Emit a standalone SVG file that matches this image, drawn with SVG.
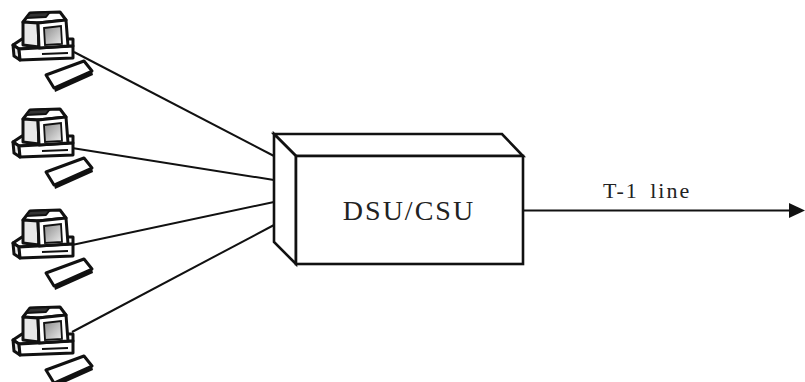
<svg xmlns="http://www.w3.org/2000/svg" xmlns:xlink="http://www.w3.org/1999/xlink" width="805" height="382" viewBox="0 0 805 382">
  <style>
    .pc-line { fill: #fff; stroke: #111; stroke-width: 3; stroke-linejoin: round; }
    .pc-side { fill: #e8e8e8; stroke: #111; stroke-width: 3; stroke-linejoin: round; }
    .pc-dark { fill: #333; stroke: #111; stroke-width: 2; stroke-linejoin: round; }
    .wire { stroke: #111; stroke-width: 2; fill: none; }
    .box { fill: #fff; stroke: #111; stroke-width: 2.6; stroke-linejoin: miter; }
    .label { font-family: "Liberation Serif", "Times New Roman", serif; fill: #222; }
  </style>
  <defs>
    <linearGradient id="screen" x1="0" y1="0" x2="1" y2="1">
      <stop offset="0" stop-color="#8a8a8a"/>
      <stop offset="1" stop-color="#ececec"/>
    </linearGradient>
    <!-- desktop computer: case, monitor and keyboard -->
    <symbol id="pc" viewBox="0 0 100 95" width="100" height="95" overflow="visible">
      <!-- case -->
      <polygon class="pc-line" points="13,45 22,39 73,39 73,46 19,49"/>
      <polygon class="pc-side" points="13,45 19,49 20,60 14,56"/>
      <polygon class="pc-line" points="19,49 73,46 73,58 20,60"/>
      <line x1="42" y1="54" x2="68" y2="53" stroke="#111" stroke-width="2"/>
      <!-- monitor -->
      <polygon class="pc-line" points="23,22 30,13 60,12 66,20 38,23"/>
      <polygon class="pc-dark" points="26,18 30,13 50,12 46,17"/>
      <polygon class="pc-side" points="23,22 38,23 39,47 23,45"/>
      <polygon class="pc-line" points="38,23 66,20 68,46 39,48"/>
      <polygon points="44,28 61,26 62,44 45,45" fill="url(#screen)" stroke="#111" stroke-width="1.8"/>
      <!-- keyboard with a thick front edge -->
      <polygon points="54,88 92,71 93,75 55,92" fill="#111"/>
      <polygon class="pc-line" points="46,75 84,61 92,71 54,88"/>
    </symbol>
  </defs>

  <rect width="805" height="382" fill="#fff"/>

  <g id="connectors">
    <line class="wire" x1="74" y1="52" x2="274" y2="156"/>
    <line class="wire" x1="72" y1="148" x2="274" y2="180"/>
    <line class="wire" x1="72" y1="245" x2="274" y2="202"/>
    <line class="wire" x1="72" y1="332" x2="274" y2="225"/>
    <line class="wire" x1="523" y1="210.5" x2="792" y2="210.5"/>
    <polygon points="789,203 805,210.5 789,218" fill="#111"/>
  </g>

  <g id="pc1"><use xlink:href="#pc" x="0" y="0"/></g>
  <g id="pc2"><use xlink:href="#pc" x="0" y="97"/></g>
  <g id="pc3"><use xlink:href="#pc" x="0" y="198"/></g>
  <g id="pc4"><use xlink:href="#pc" x="0" y="295"/></g>

  <g id="dsu-csu">
    <polygon class="box" points="274,134 502,134 523,156 296,156"/>
    <polygon class="box" points="274,134 296,156 296,264 274,242"/>
    <rect class="box" x="296" y="156" width="227" height="108"/>
    <text class="label" x="409" y="220" font-size="28" letter-spacing="2" text-anchor="middle">DSU/CSU</text>
  </g>

  <g id="t1-label">
    <text class="label" x="603" y="198" font-size="22" letter-spacing="2" word-spacing="4">T-1 line</text>
  </g>
</svg>
